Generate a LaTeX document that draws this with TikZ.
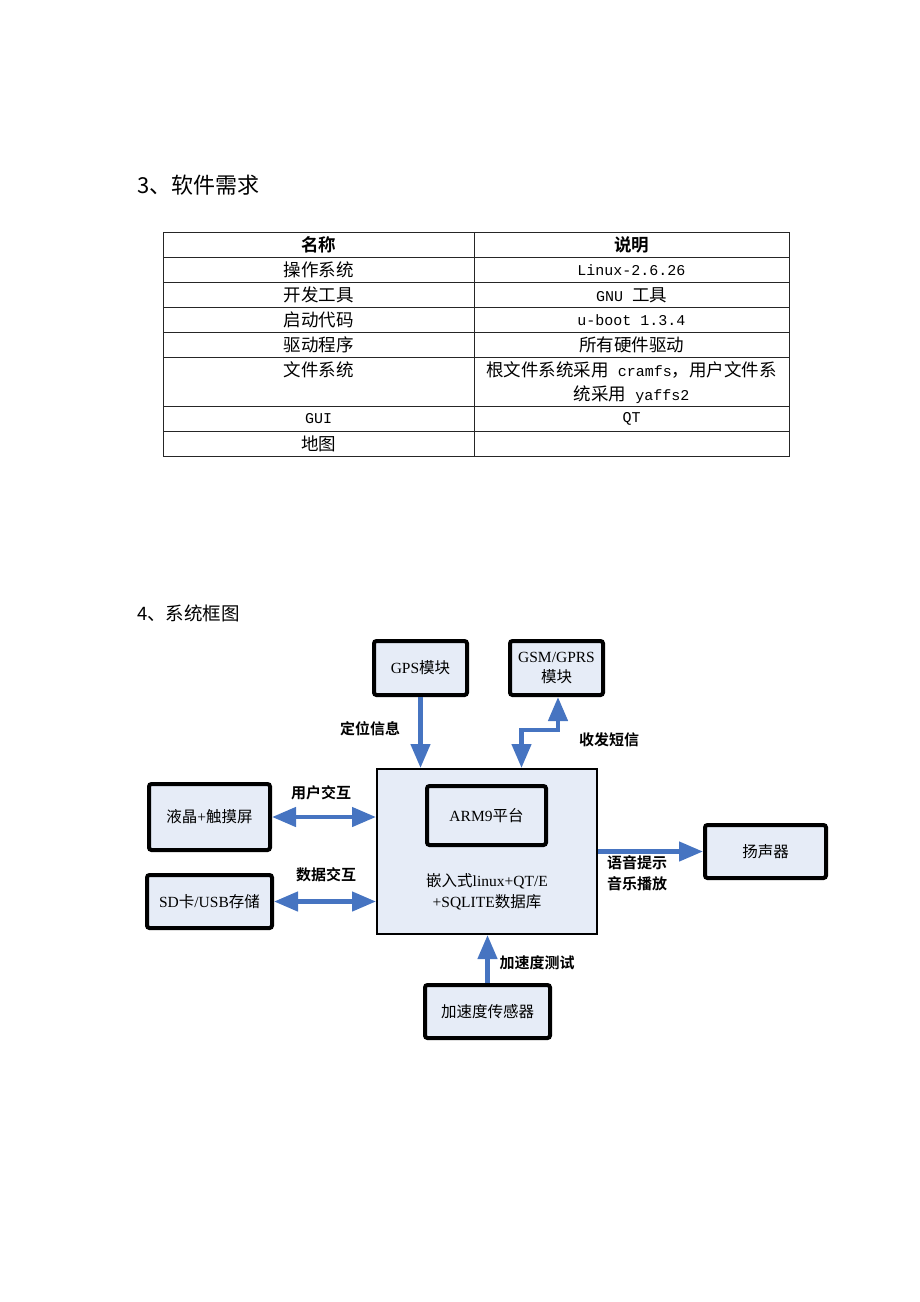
\documentclass[tikz,border=0pt]{standalone}
\usepackage{fontspec}
\setmainfont{Liberation Serif}
\newfontfamily\cjk{Noto Sans CJK SC}
\newfontfamily\cjkb{Noto Sans CJK SC Bold}
\newfontfamily\monof{Liberation Mono}
\usetikzlibrary{arrows.meta}
\definecolor{boxfill}{RGB}{230,236,247}
\definecolor{arrblue}{RGB}{70,116,193}
\newcommand\latinm[1]{{\monof\fontsize{15}{18}\selectfont #1}}
\begin{document}
\begin{tikzpicture}[x=1pt,y=-1pt,
  tcell/.style={inner sep=0pt, font=\cjk\fontsize{17.5}{21}\selectfont},
  thead/.style={inner sep=0pt, font=\cjkb\fontsize{17.5}{21}\selectfont},
  blk/.style={draw=black, line width=4pt, rounded corners=2.5pt, fill=boxfill, inner sep=0pt, align=center, font=\fontsize{15.5}{20}\selectfont},
  mainblk/.style={draw=black, line width=2pt, fill=boxfill, inner sep=0pt},
  lbl/.style={inner sep=0pt, font=\cjkb\fontsize{15}{18}\selectfont},
  txt/.style={inner sep=0pt, font=\fontsize{15.5}{20}\selectfont},
  arr/.style={draw=arrblue, line width=4.5pt, -{Triangle[width=19pt,length=24pt]}},
  biarr/.style={draw=arrblue, line width=4.5pt, {Triangle[width=19pt,length=24pt]}-{Triangle[width=19pt,length=24pt]}},
  tline/.style={draw=black!85, line width=0.9pt}
]
\useasboundingbox (0,0) rectangle (920,1302);
% ---------- section 3 ----------
\node[anchor=west, inner sep=0pt, font=\cjk\fontsize{22}{25}\selectfont] (t3) at (137,185) {3、软件需求};
% table grid
\draw[tline] (163,232) rectangle (789,456);
\foreach \yy in {257,282,307,332,357,406,431} \draw[tline] (163,\yy) -- (789,\yy);
\draw[tline] (474,232) -- (474,456);
% table text
\node[thead] (h1) at (318.5,245) {名称};
\node[thead] (h2) at (631.5,245) {说明};
\node[tcell] (a1) at (318.5,270) {操作系统};
\node[tcell] (b1) at (631.5,270) {\latinm{Linux-2.6.26}};
\node[tcell] (a2) at (318.5,295) {开发工具};
\node[tcell] (b2) at (631.5,295) {\latinm{GNU }工具};
\node[tcell] (a3) at (318.5,320) {启动代码};
\node[tcell] (b3) at (631.5,320) {\latinm{u-boot 1.3.4}};
\node[tcell] (a4) at (318.5,345) {驱动程序};
\node[tcell] (b4) at (631.5,345) {所有硬件驱动};
\node[tcell] (a5) at (318.5,370) {文件系统};
\node[tcell] (b5) at (631.5,370) {根文件系统采用\latinm{ cramfs}，用户文件系};
\node[tcell] (b5b) at (631.5,394.5) {统采用\latinm{ yaffs2}};
\node[tcell] (a6) at (318.5,419) {\latinm{GUI}};
\node[tcell] (b6) at (631.5,419) {\latinm{QT}};
\node[tcell] (a7) at (318.5,444) {地图};
% ---------- section 4 ----------
\node[anchor=west, inner sep=0pt, font=\cjk\fontsize{18.5}{22}\selectfont] (t4) at (137,613) {4、系统框图};
% blocks
\node[blk, minimum width=93pt, minimum height=54pt] (gps) at (420.5,668) {GPS{\cjk 模块}};
\node[blk, minimum width=93pt, minimum height=54pt] (gsm) at (556.5,668) {GSM/GPRS\\[0pt]{\cjk 模块}};
\node[mainblk, minimum width=220pt, minimum height=165pt] (main) at (487,851.5) {};
\node[blk, minimum width=119pt, minimum height=59pt] (arm) at (486.5,815.5) {ARM9{\cjk 平台}};
\node[txt] (os1) at (487,881.5) {{\cjk 嵌入式}linux+QT/E};
\node[txt] (os2) at (487,902) {+SQLITE{\cjk 数据库}};
\node[blk, minimum width=121pt, minimum height=66pt] (lcd) at (209.5,817) {{\cjk 液晶}+{\cjk 触摸屏}};
\node[blk, minimum width=125pt, minimum height=53pt] (sd) at (209.5,901.5) {SD{\cjk 卡}/USB{\cjk 存储}};
\node[blk, minimum width=121pt, minimum height=53pt] (spk) at (765.5,851.5) {\cjk 扬声器};
\node[blk, minimum width=125pt, minimum height=53pt] (acc) at (487.5,1011.5) {\cjk 加速度传感器};
% connectors
\draw[arr] (gps.south) -- (gps.south |- main.north);
\draw[biarr] ([xshift=34.5pt]main.north) -- ++(0,-38) -| ([xshift=1.5pt]gsm.south);
\draw[biarr] (lcd.east) -- (lcd.east -| main.west);
\draw[biarr] (sd.east) -- (sd.east -| main.west);
\draw[arr] (spk.west -| main.east) -- (spk.west);
\draw[arr] (acc.north) -- (acc.north |- main.south);
% labels
\node[lbl] (l1) at (370,729) {定位信息};
\node[lbl] (l2) at (609,740) {收发短信};
\node[lbl] (l3) at (321,793) {用户交互};
\node[lbl] (l4) at (326,875) {数据交互};
\node[lbl, anchor=west] (l5) at (607,863) {语音提示};
\node[lbl, anchor=west] (l6) at (607,884) {音乐播放};
\node[lbl] (l7) at (537,963) {加速度测试};
\end{tikzpicture}
\end{document}
